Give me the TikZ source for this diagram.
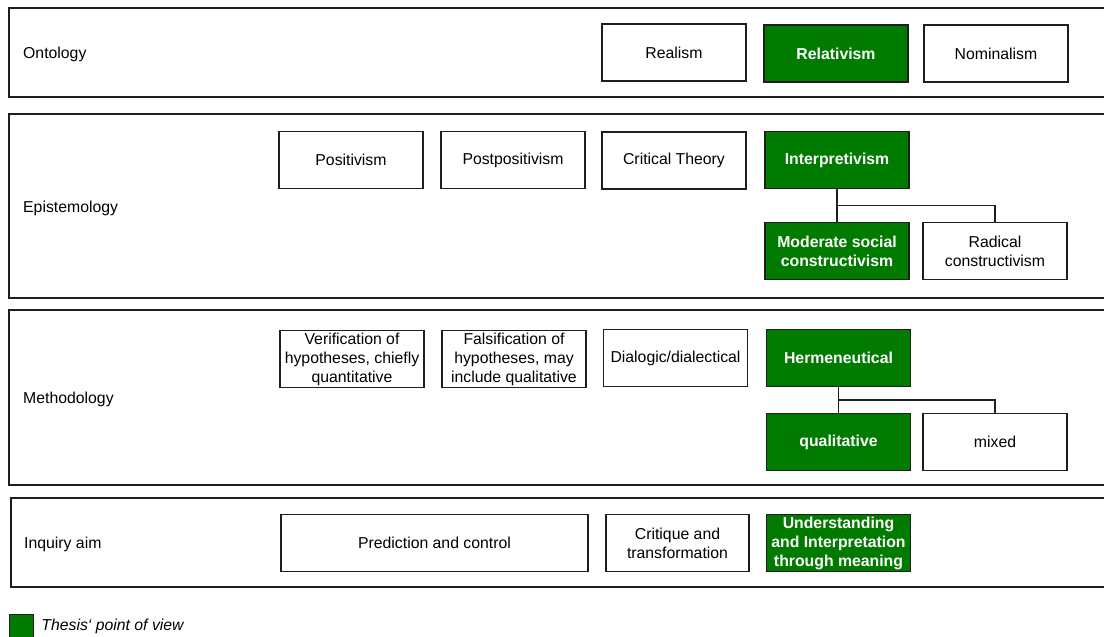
\documentclass[tikz,border=0pt]{standalone}
\usepackage{fontspec}
\setmainfont{Liberation Sans}
\usetikzlibrary{calc}
\definecolor{thesisgreen}{RGB}{0,123,0}
\definecolor{edge}{RGB}{30,30,30}
\newcommand{\boxfont}{\fontsize{15.8}{19}\selectfont}
\begin{document}
\begin{tikzpicture}[x=1pt,y=-1pt,
  every node/.style={font=\boxfont},
  frame/.style={draw=edge,line width=1.4pt},
  rowlabel/.style={anchor=west,inner sep=0},
  optbox/.style={draw=edge,line width=1.2pt,fill=white,minimum width=144pt,minimum height=57pt,align=center,inner sep=0},
  chosen/.style={optbox,fill=thesisgreen,text=white,font=\boxfont\bfseries},
  link/.style={draw=edge,line width=1.2pt}]
\useasboundingbox (0,0) rectangle (1104,637);
\clip (0,0) rectangle (1104,637);

% row frames (open to the right)
\draw[frame] (9,8) rectangle (1125,97);
\draw[frame] (9,114) rectangle (1125,298);
\draw[frame] (9,310) rectangle (1125,485);
\draw[frame] (11,498) rectangle (1125,587);

% row labels
\node[rowlabel] (lont) at (23,54) {Ontology};
\node[rowlabel] (lepi) at (23,208) {Epistemology};
\node[rowlabel] (lmet) at (23,399) {Methodology};
\node[rowlabel] (linq) at (24,544) {Inquiry aim};

% ontology
\node[optbox] (realism) at (674,52.5) {Realism};
\node[chosen] (relativism) at (836,53.5) {Relativism};
\node[optbox] (nominalism) at (996,53.5) {Nominalism};

% epistemology
\node[optbox] (positivism) at (351,160) {Positivism};
\node[optbox] (postpos) at (513,160) {Postpositivism};
\node[optbox] (critical) at (674,160.5) {Critical Theory};
\node[chosen] (interp) at (837,160) {Interpretivism};
\node[chosen] (moderate) at (837,251) {Moderate social\\constructivism};
\node[optbox] (radical) at (995,251) {Radical\\constructivism};
\draw[link] (interp.south) -- (moderate.north);
\draw[link] ($(interp.south)!0.5!(moderate.north)$) -| (radical.north);

% methodology
\node[optbox] (verif) at (352,359) {Verification of\\hypotheses, chiefly\\quantitative};
\node[optbox] (falsif) at (514,359) {Falsification of\\hypotheses, may\\include qualitative};
\node[optbox] (dialogic) at (675.5,358) {Dialogic/dialectical};
\node[chosen] (herm) at (838.5,358) {Hermeneutical};
\node[chosen] (qual) at (838.5,442) {qualitative};
\node[optbox] (mixed) at (995,442) {mixed};
\draw[link] (herm.south) -- (qual.north);
\draw[link] ($(herm.south)!0.5!(qual.north)$) -| (mixed.north);

% inquiry aim
\node[optbox,minimum width=307pt] (predict) at (434.5,543) {Prediction and control};
\node[optbox,minimum width=143pt] (critique) at (677.5,543) {Critique and\\transformation};
\node[chosen] (underst) at (838.5,543) {Understanding\\and Interpretation\\through meaning};

% legend
\node[draw=edge,line width=1.2pt,fill=thesisgreen,minimum width=24pt,minimum height=24pt,inner sep=0,anchor=north west] (key) at (9,614) {};
\node[anchor=west,inner sep=0,font=\boxfont\itshape] (keytext) at ([xshift=7pt]key.east |- 0,626) {Thesis‘ point of view};
\end{tikzpicture}
\end{document}
